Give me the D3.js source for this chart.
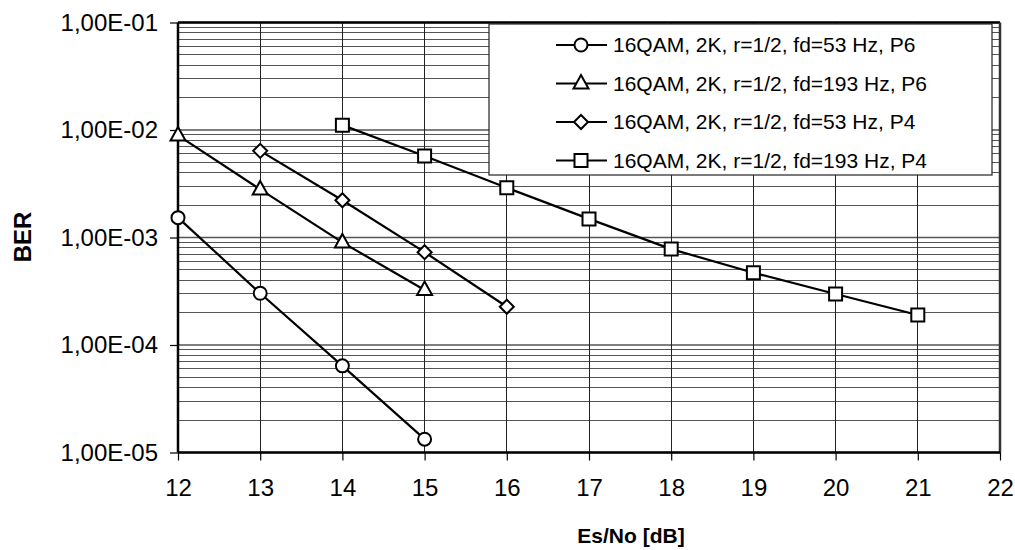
<!DOCTYPE html>
<html><head><meta charset="utf-8">
<script src="https://cdn.jsdelivr.net/npm/d3@7"></script>
<style>
html,body{margin:0;padding:0;background:#fff;}
svg{display:block;font-family:"Liberation Sans",Arial,sans-serif;}
</style></head>
<body><svg id="chart" width="1015" height="550"></svg>
<script>
// ---- data ----
const xTicks = [12,13,14,15,16,17,18,19,20,21,22];
const yTicks = [1e-1,1e-2,1e-3,1e-4,1e-5];
const yTickLabels = ["1,00E-01","1,00E-02","1,00E-03","1,00E-04","1,00E-05"];
const seriesNames = [
  "16QAM, 2K, r=1/2, fd=53 Hz, P6",
  "16QAM, 2K, r=1/2, fd=193 Hz, P6",
  "16QAM, 2K, r=1/2, fd=53 Hz, P4",
  "16QAM, 2K, r=1/2, fd=193 Hz, P4"
];
const snr1 = [12,13,14,15];
const ber1 = [1.53e-3,3.03e-4,6.4e-5,1.33e-5];
const snr2 = [12,13,14,15];
const ber2 = [8.9e-3,2.8e-3,9.0e-4,3.25e-4];
const snr3 = [13,14,15,16];
const ber3 = [6.4e-3,2.22e-3,7.3e-4,2.27e-4];
const snr4 = [14,15,16,17,18,19,20,21];
const ber4 = [1.11e-2,5.73e-3,2.9e-3,1.49e-3,7.8e-4,4.7e-4,2.98e-4,1.9e-4];
const markers = ["circle","triangle","diamond","square"];

const series = [[snr1,ber1],[snr2,ber2],[snr3,ber3],[snr4,ber4]].map((s,i)=>({
  name: seriesNames[i], marker: markers[i],
  pts: s[0].map((x,j)=>({x:x,y:s[1][j]}))
}));

// ---- layout ----
const L=178, R=1000, T=22.5, B=452.5;
const svg = d3.select("#chart");
const x = d3.scaleLinear().domain([12,22]).range([L,R]);
const y = d3.scaleLog().domain([1e-5,1e-1]).range([B,T]);

// minor gridlines
const minor = [];
for (let e=-5; e<-1; e++) for (let m=2; m<=9; m++) minor.push(m*Math.pow(10,e));
svg.append("g").selectAll("line").data(minor).join("line")
  .attr("x1",L).attr("x2",R).attr("y1",d=>y(d)).attr("y2",d=>y(d))
  .attr("stroke","#555").attr("stroke-width",1).attr("shape-rendering","crispEdges");
// major gridlines
svg.append("g").selectAll("line").data(yTicks).join("line")
  .attr("x1",L).attr("x2",R).attr("y1",d=>y(d)).attr("y2",d=>y(d))
  .attr("stroke","#555").attr("stroke-width",1.5);
// vertical gridlines
svg.append("g").selectAll("line").data(xTicks).join("line")
  .attr("x1",d=>x(d)).attr("x2",d=>x(d)).attr("y1",T).attr("y2",B)
  .attr("stroke","#222").attr("stroke-width",1).attr("shape-rendering","crispEdges");

// axes
const yAxis = d3.axisLeft(y).tickValues(yTicks).tickFormat((d,i)=>yTickLabels[i]).tickSize(8).tickPadding(12);
const gy = svg.append("g").attr("transform",`translate(${L},0)`).call(yAxis);
gy.select(".domain").remove();
gy.selectAll(".tick line").attr("stroke","#000").attr("stroke-width",1.2);
gy.selectAll("text").attr("font-size",24).attr("fill","#000").attr("font-family","Liberation Sans, Arial, sans-serif");

const xAxis = d3.axisBottom(x).tickValues(xTicks).tickFormat(d3.format("d")).tickSize(8).tickPadding(18);
const gx = svg.append("g").attr("transform",`translate(0,${B})`).call(xAxis);
gx.select(".domain").remove();
gx.selectAll(".tick line").attr("stroke","#000").attr("stroke-width",1.2);
gx.selectAll("text").attr("font-size",24).attr("fill","#000").attr("font-family","Liberation Sans, Arial, sans-serif");

// plot frame
svg.append("line").attr("x1",L).attr("x2",R).attr("y1",T).attr("y2",T).attr("stroke","#000").attr("stroke-width",2.5);
svg.append("line").attr("x1",R).attr("x2",R).attr("y1",T).attr("y2",B).attr("stroke","#333").attr("stroke-width",2.5);
svg.append("line").attr("x1",L).attr("x2",R).attr("y1",B).attr("y2",B).attr("stroke","#000").attr("stroke-width",2.5);
svg.append("line").attr("x1",L).attr("x2",L).attr("y1",T).attr("y2",B).attr("stroke","#000").attr("stroke-width",2.5);

// axis titles
svg.append("text").attr("x",(L+R)/2+42).attr("y",543).attr("text-anchor","middle")
  .attr("font-size",21).attr("font-weight","bold").text("Es/No [dB]");
svg.append("text").attr("transform","translate(31,237) rotate(-90)").attr("text-anchor","middle")
  .attr("font-size",24).attr("font-weight","bold").text("BER");

// marker paths
function markerPath(type){
  switch(type){
    case "circle": return d3.arc()({innerRadius:0,outerRadius:6.5,startAngle:0,endAngle:2*Math.PI});
    case "square": return "M-6.5,-6.5H6.5V6.5H-6.5Z";
    case "diamond": return "M0,-7L7,0L0,7L-7,0Z";
    case "triangle": return "M0,-8.5L7.5,5L-7.5,5Z";
  }
}

// legend
const legX=489, legY=24, legW=503, legH=151;
svg.append("rect").attr("x",legX).attr("y",legY).attr("width",legW).attr("height",legH)
  .attr("fill","#fff").attr("stroke","#222").attr("stroke-width",1.2);
const leg = svg.append("g").selectAll("g").data(series).join("g")
  .attr("transform",(d,i)=>`translate(0,${45+i*38.5})`);
leg.append("line").attr("x1",556).attr("x2",607).attr("stroke","#000").attr("stroke-width",2);
leg.append("path").attr("d",d=>markerPath(d.marker)).attr("transform","translate(581,0)")
  .attr("fill","#fff").attr("stroke","#000").attr("stroke-width",2);
leg.append("text").attr("x",613).attr("y",0).attr("dy","0.35em").attr("font-size",21).text(d=>d.name);

// series
const line = d3.line().x(d=>x(d.x)).y(d=>y(d.y));
const gs = svg.append("g").selectAll("g").data(series).join("g");
gs.append("path").attr("d",d=>line(d.pts)).attr("fill","none").attr("stroke","#000").attr("stroke-width",2.2);
gs.selectAll("path.m").data(d=>d.pts.map(p=>({p:p,m:d.marker}))).join("path").attr("class","m")
  .attr("d",d=>markerPath(d.m)).attr("transform",d=>`translate(${x(d.p.x)},${y(d.p.y)})`)
  .attr("fill","#fff").attr("stroke","#000").attr("stroke-width",2);
</script></body></html>
